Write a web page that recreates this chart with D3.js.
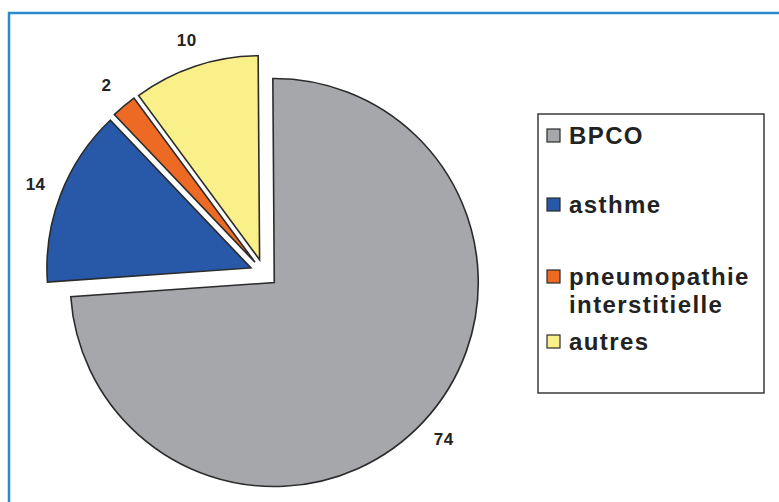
<!DOCTYPE html>
<html>
<head>
<meta charset="utf-8">
<script src="https://cdn.jsdelivr.net/npm/d3@7"></script>
<style>
  html, body { margin: 0; padding: 0; background: #ffffff; }
  svg { display: block; }
</style>
</head>
<body>
<svg id="chart" width="779" height="502"></svg>
<script>
// Répartition des pathologies (%)
const categories = ["BPCO", "asthme", "pneumopathie interstitielle", "autres"];
const values = [74, 14, 2, 10];
const legendLines = [["BPCO"], ["asthme"], ["pneumopathie", "interstitielle"], ["autres"]];
const colors = ["#a6a7ab", "#2759a8", "#ec6a24", "#f9f08a"];

const svg = d3.select("#chart");

// blue frame around the figure (open at the right and bottom edges)
svg.append("rect")
  .attr("x", 9).attr("y", 13)
  .attr("width", 820).attr("height", 540)
  .attr("fill", "none")
  .attr("stroke", "#2a8ccf")
  .attr("stroke-width", 2.5);

const cx = 264, cy = 273;
const radius = 204;
const explode = 14;
const labelRadius = 231;
const tilt = -0.007;

const pie = d3.pie()
  .value(d => d)
  .sort(null)
  .startAngle(tilt)
  .endAngle(2 * Math.PI + tilt);

const arcs = pie(values);
const arc = d3.arc().innerRadius(0).outerRadius(radius);

const offset = d => {
  const a = (d.startAngle + d.endAngle) / 2;
  return [explode * Math.sin(a), -explode * Math.cos(a)];
};

const g = svg.append("g").attr("transform", `translate(${cx},${cy})`);

g.selectAll("path.slice")
  .data(arcs)
  .join("path")
  .attr("class", "slice")
  .attr("transform", d => { const o = offset(d); return `translate(${o[0]},${o[1]})`; })
  .attr("d", arc)
  .attr("fill", (d, i) => colors[i])
  .attr("stroke", "#2b2b2b")
  .attr("stroke-width", 1.6)
  .attr("stroke-linejoin", "miter");

// value labels outside each slice
g.selectAll("text.value")
  .data(arcs)
  .join("text")
  .attr("class", "value")
  .attr("x", d => { const a = (d.startAngle + d.endAngle) / 2; return offset(d)[0] + labelRadius * Math.sin(a); })
  .attr("y", d => { const a = (d.startAngle + d.endAngle) / 2; return offset(d)[1] - labelRadius * Math.cos(a); })
  .attr("text-anchor", "middle")
  .attr("dominant-baseline", "central")
  .attr("font-family", "'Liberation Sans', Arial, sans-serif")
  .attr("font-weight", "bold")
  .attr("font-size", 17)
  .attr("letter-spacing", 0.5)
  .attr("fill", "#222")
  .text(d => d.data);

// legend
const legend = svg.append("g");
legend.append("rect")
  .attr("x", 538).attr("y", 114)
  .attr("width", 226).attr("height", 279)
  .attr("fill", "#fff")
  .attr("stroke", "#3a3a3a")
  .attr("stroke-width", 1.5);

const legendRowY = [129, 198, 270, 335];
const items = legend.selectAll("g.item")
  .data(categories)
  .join("g")
  .attr("class", "item")
  .attr("transform", (d, i) => `translate(547,${legendRowY[i]})`);

items.append("rect")
  .attr("width", 13).attr("height", 13)
  .attr("fill", (d, i) => colors[i])
  .attr("stroke", "#2b2b2b")
  .attr("stroke-width", 1.2);

items.append("text")
  .attr("x", 22)
  .attr("font-family", "'Liberation Sans', Arial, sans-serif")
  .attr("font-weight", "bold")
  .attr("font-size", 24)
  .attr("letter-spacing", 1.4)
  .attr("fill", "#222")
  .selectAll("tspan")
  .data((d, i) => legendLines[i])
  .join("tspan")
  .attr("x", 22)
  .attr("y", (d, j) => 15 + j * 28)
  .text(d => d);
</script>
</body>
</html>
